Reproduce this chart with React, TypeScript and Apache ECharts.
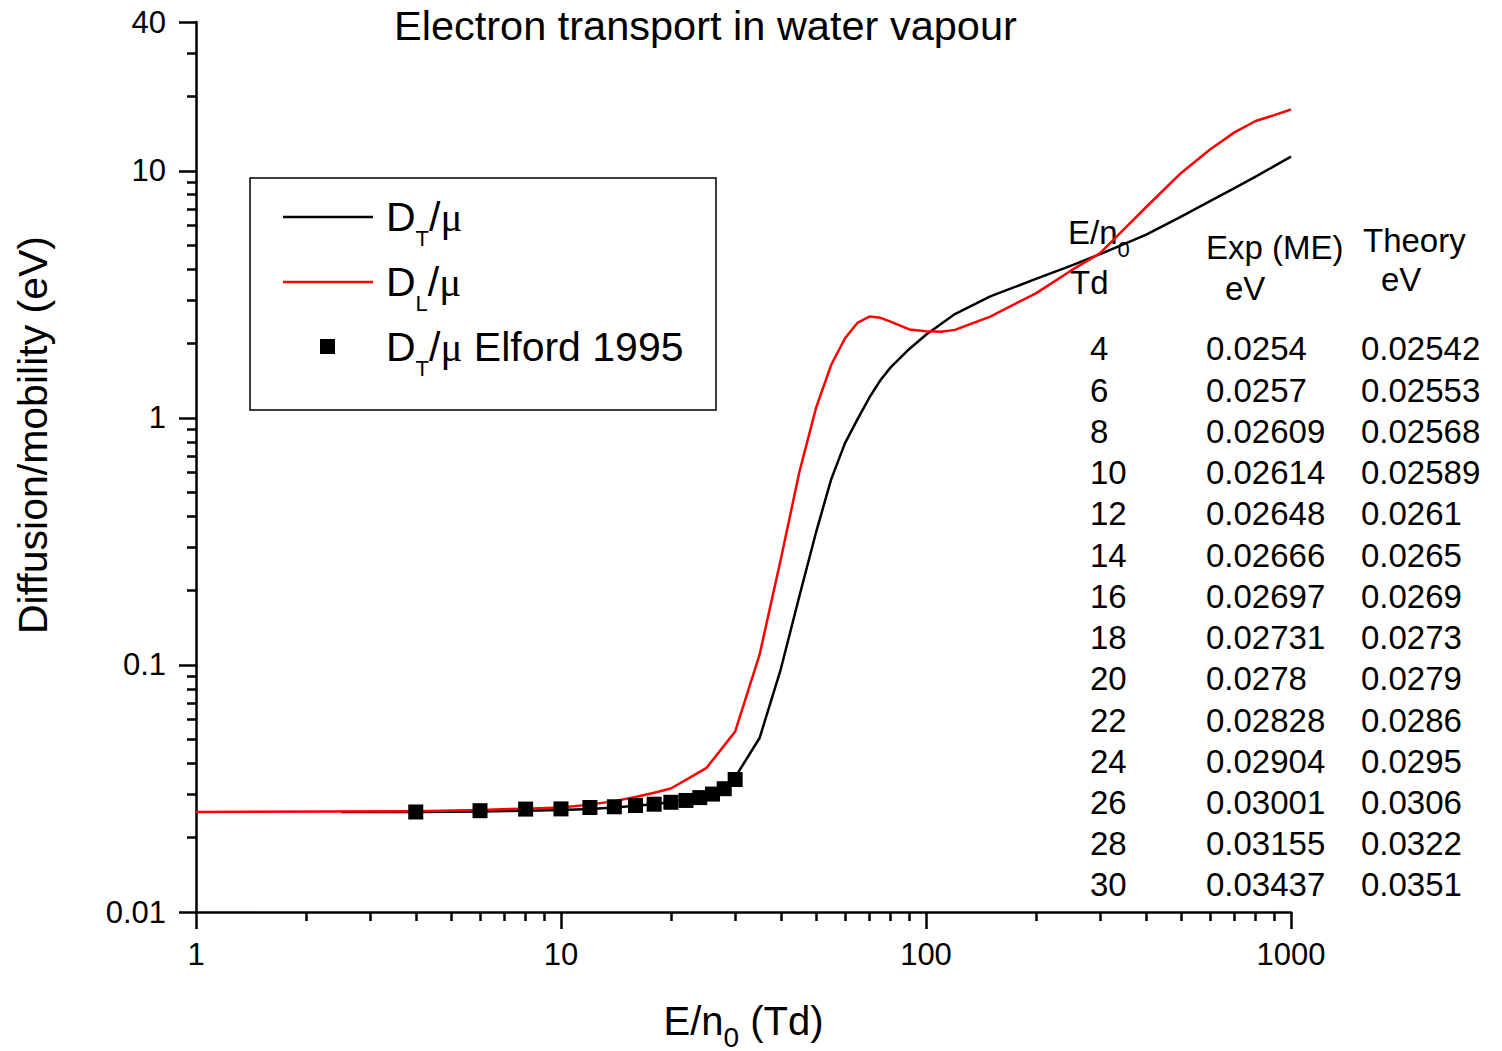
import React, { useEffect, useRef } from "react";
import * as echarts from "echarts";

const SANS = "Liberation Sans, Arial, Helvetica, sans-serif";
const SERIF = "Liberation Serif, Times New Roman, serif";

// Reduced field E/n0 (Td) used in the table and for the Elford 1995 points
const tableField = [4, 6, 8, 10, 12, 14, 16, 18, 20, 22, 24, 26, 28, 30];
// Elford 1995 measured D_T/mu (eV)
const expValues = [
  "0.0254", "0.0257", "0.02609", "0.02614", "0.02648", "0.02666", "0.02697",
  "0.02731", "0.0278", "0.02828", "0.02904", "0.03001", "0.03155", "0.03437",
];
// Calculated D_T/mu (eV) at the same fields
const theoryValues = [
  "0.02542", "0.02553", "0.02568", "0.02589", "0.0261", "0.0265", "0.0269",
  "0.0273", "0.0279", "0.0286", "0.0295", "0.0306", "0.0322", "0.0351",
];

// D_T/mu below and above the tabulated range
const dtLowField = [2.5];
const dtLowValues = [0.0254];
const dtHighField = [35, 40, 45, 50, 55, 60, 65, 70, 75, 80, 90, 100, 120, 150, 200, 250, 300, 400, 500, 600, 700, 800, 1000];
const dtHighValues = [0.0506, 0.096, 0.19, 0.345, 0.565, 0.79, 0.99, 1.21, 1.42, 1.6, 1.9, 2.17, 2.63, 3.1, 3.65, 4.13, 4.6, 5.5, 6.52, 7.53, 8.5, 9.47, 11.4];

// D_L/mu
const dlField = [1, 2.5, 4, 6, 8, 10, 12, 14, 16, 18, 20, 25, 30, 35, 40, 45, 50, 55, 60, 65, 70, 75, 80, 90, 100, 110, 120, 150, 200, 250, 300, 350, 400, 500, 600, 700, 800, 900, 1000];
const dlValues = [0.0254, 0.0255, 0.02555, 0.0259, 0.0262, 0.0265, 0.0272, 0.0281, 0.0292, 0.0304, 0.0316, 0.0382, 0.0537, 0.11, 0.267, 0.605, 1.1, 1.64, 2.1, 2.43, 2.57, 2.54, 2.45, 2.28, 2.24, 2.23, 2.27, 2.57, 3.19, 3.95, 4.64, 5.83, 7.1, 9.8, 12.2, 14.3, 15.9, 16.8, 17.7];

// Axis ticks
const xMajorTicks = [1, 10, 100, 1000];
const xMinorTicks = [2, 3, 4, 5, 6, 7, 8, 9, 20, 30, 40, 50, 60, 70, 80, 90, 200, 300, 400, 500, 600, 700, 800, 900];
const yMajorTicks = [0.01, 0.1, 1, 10, 40];
const yMinorTicks = [0.02, 0.03, 0.04, 0.05, 0.06, 0.07, 0.08, 0.09, 0.2, 0.3, 0.4, 0.5, 0.6, 0.7, 0.8, 0.9, 2, 3, 4, 5, 6, 7, 8, 9, 20, 30];

const zip = (xs: number[], ys: number[]) => xs.map((x, i) => [x, ys[i]]);

const dtData = [
  ...zip(dtLowField, dtLowValues),
  ...zip(tableField, theoryValues.map(Number)),
  ...zip(dtHighField, dtHighValues),
];
const dlData = zip(dlField, dlValues);
const elfordData = zip(tableField, expValues.map(Number));

const fmt = (v: number) => String(Number(Number(v).toPrecision(6)));

const axisStroke = { color: "#000", width: 2.5 };

function buildOption(): echarts.EChartsOption {
  const rowStep = 41.23;
  const firstRowY = 349;
  const tableTop = firstRowY - rowStep / 2;
  const tableFont = 33;

  const tableCol = (x: number, lines: string[]) => ({
    type: "text",
    x,
    y: tableTop,
    style: {
      text: lines.join("\n"),
      fontSize: tableFont,
      fontFamily: SANS,
      lineHeight: rowStep,
      fill: "#000",
      align: "left",
      verticalAlign: "top",
    },
  });

  const headerText = (x: number, y: number, text: string) => ({
    type: "text",
    x,
    y,
    style: { text, fontSize: tableFont, fontFamily: SANS, fill: "#000", align: "left", verticalAlign: "middle" },
  });

  const legendRich = {
    d: { fontSize: 41, fontFamily: SANS, lineHeight: 64, fill: "#000" },
    s: { fontSize: 22, fontFamily: SANS, lineHeight: 22, verticalAlign: "bottom", fill: "#000" },
    m: { fontSize: 41, fontFamily: SERIF, lineHeight: 64, fill: "#000" },
  };
  const legendText = (y: number, text: string) => ({
    type: "text",
    x: 386,
    y,
    style: { text, rich: legendRich, align: "left", verticalAlign: "middle" },
  });

  return {
    animation: false,
    backgroundColor: "#fff",
    textStyle: { fontFamily: SANS, color: "#000" },
    title: {
      text: "Electron transport in water vapour",
      left: 394,
      top: 4,
      padding: 0,
      textStyle: { fontSize: 41.5, fontWeight: "normal", color: "#000", fontFamily: SANS },
    },
    grid: { left: 196, right: 211, top: 22, bottom: 139, containLabel: false, outerBoundsMode: "none" } as any,
    xAxis: [
      {
        type: "log",
        logBase: 10,
        min: 1,
        max: 1000,
        position: "bottom",
        axisLine: { show: true, onZero: false, lineStyle: axisStroke },
        axisTick: { show: true, inside: false, length: 17, customValues: xMajorTicks, lineStyle: axisStroke },
        axisLabel: {
          show: true,
          customValues: xMajorTicks,
          margin: 27,
          color: "#000",
          fontSize: 31,
          fontFamily: SANS,
          formatter: fmt,
        },
        minorTick: { show: false },
        splitLine: { show: false },
        name: "{a|E/n}{s|0}{a| (Td)}",
        nameLocation: "middle",
        nameGap: 79,
        nameTextStyle: {
          rich: {
            a: { fontSize: 40, fontFamily: SANS, color: "#000", lineHeight: 60 },
            s: { fontSize: 28, fontFamily: SANS, color: "#000", lineHeight: 28, verticalAlign: "bottom" },
          },
        },
      } as any,
      {
        type: "log",
        logBase: 10,
        min: 1,
        max: 1000,
        position: "bottom",
        axisLine: { show: false },
        axisTick: { show: true, inside: false, length: 9, customValues: xMinorTicks, lineStyle: axisStroke },
        axisLabel: { show: false },
        splitLine: { show: false },
      } as any,
    ],
    yAxis: [
      {
        type: "log",
        logBase: 10,
        min: 0.01,
        max: 40,
        position: "left",
        axisLine: { show: true, onZero: false, lineStyle: axisStroke },
        axisTick: { show: true, inside: false, length: 17, customValues: yMajorTicks, lineStyle: axisStroke },
        axisLabel: {
          show: true,
          customValues: yMajorTicks,
          margin: 30,
          color: "#000",
          fontSize: 31,
          fontFamily: SANS,
          formatter: fmt,
        },
        minorTick: { show: false },
        splitLine: { show: false },
        name: "Diffusion/mobility (eV)",
        nameLocation: "middle",
        nameGap: 143,
        nameTextStyle: { fontSize: 41, fontFamily: SANS, color: "#000", padding: [0, 0, 0, 64] },
      } as any,
      {
        type: "log",
        logBase: 10,
        min: 0.01,
        max: 40,
        position: "left",
        axisLine: { show: false },
        axisTick: { show: true, inside: false, length: 9, customValues: yMinorTicks, lineStyle: axisStroke },
        axisLabel: { show: false },
        splitLine: { show: false },
      } as any,
    ],
    series: [
      {
        name: "D_T/mu",
        type: "line",
        xAxisIndex: 0,
        yAxisIndex: 0,
        data: dtData,
        showSymbol: false,
        symbol: "none",
        lineStyle: { color: "#000", width: 2.5, join: "round" },
        itemStyle: { color: "#000" },
        z: 2,
      },
      {
        name: "D_L/mu",
        type: "line",
        xAxisIndex: 0,
        yAxisIndex: 0,
        data: dlData,
        showSymbol: false,
        symbol: "none",
        lineStyle: { color: "#ff0000", width: 2.5, join: "round" },
        itemStyle: { color: "#ff0000" },
        z: 3,
      },
      {
        name: "D_T/mu Elford 1995",
        type: "scatter",
        xAxisIndex: 0,
        yAxisIndex: 0,
        data: elfordData,
        symbol: "rect",
        symbolSize: 15,
        itemStyle: { color: "#000", opacity: 1 },
        z: 4,
      },
    ],
    graphic: [
      // legend box
      {
        type: "rect",
        shape: { x: 250, y: 178, width: 466, height: 232 },
        style: { fill: "#fff", stroke: "#000", lineWidth: 1.5 },
        z: 10,
      },
      {
        type: "line",
        shape: { x1: 283, y1: 217, x2: 373, y2: 217 },
        style: { stroke: "#000", lineWidth: 2.5 },
        z: 11,
      },
      {
        type: "line",
        shape: { x1: 283, y1: 282, x2: 373, y2: 282 },
        style: { stroke: "#ff0000", lineWidth: 2.5 },
        z: 11,
      },
      {
        type: "rect",
        shape: { x: 320, y: 339, width: 15, height: 15 },
        style: { fill: "#000" },
        z: 11,
      },
      { ...legendText(217, "{d|D}{s|T}{d|/}{m|μ}"), z: 11 },
      { ...legendText(282, "{d|D}{s|L}{d|/}{m|μ}"), z: 11 },
      { ...legendText(347, "{d|D}{s|T}{d|/}{m|μ}{d| Elford 1995}"), z: 11 },
      // table header
      {
        type: "text",
        x: 1068,
        y: 232,
        style: {
          text: "{a|E/n}{s|0}",
          rich: {
            a: { fontSize: tableFont, fontFamily: SANS, lineHeight: 56, fill: "#000" },
            s: { fontSize: 22, fontFamily: SANS, lineHeight: 22, verticalAlign: "bottom", fill: "#000" },
          },
          align: "left",
          verticalAlign: "middle",
        },
      },
      headerText(1070, 282, "Td"),
      headerText(1206, 247, "Exp (ME)"),
      headerText(1225, 288, "eV"),
      headerText(1363, 240, "Theory"),
      headerText(1381, 279, "eV"),
      // table body
      tableCol(1090, tableField.map(String)),
      tableCol(1206, expValues),
      tableCol(1361, theoryValues),
    ] as any,
  };
}

export default function App() {
  const ref = useRef<HTMLDivElement>(null);
  useEffect(() => {
    if (!ref.current) return;
    const chart = echarts.init(ref.current, null, { renderer: "svg" });
    chart.setOption(buildOption());
    return () => chart.dispose();
  }, []);
  return (
    <div
      ref={ref}
      style={{ position: "absolute", left: 0, top: 0, width: 1502, height: 1051, background: "#fff" }}
    />
  );
}
